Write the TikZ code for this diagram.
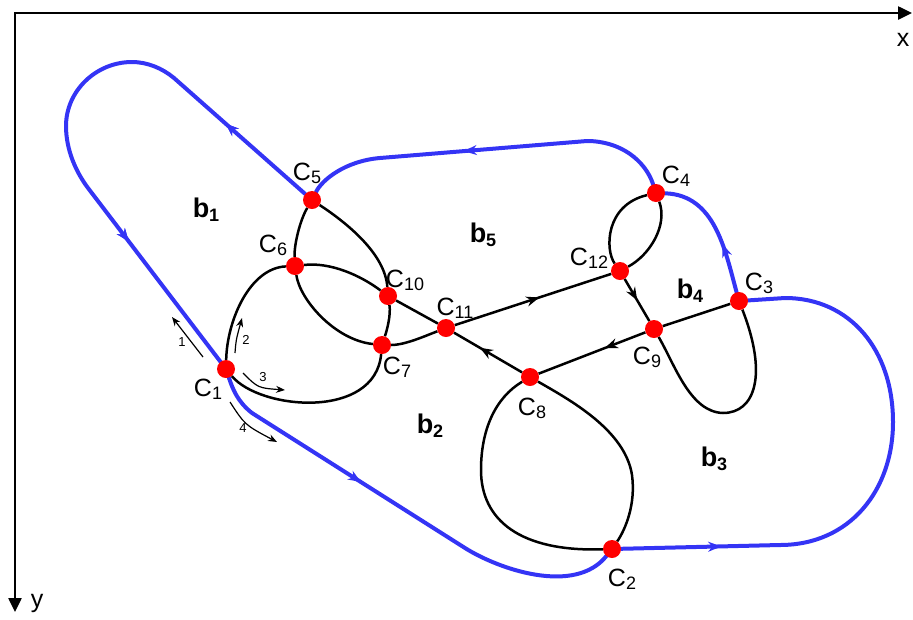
\documentclass[tikz,border=0pt]{standalone}
\usepackage{fontspec}
\setmainfont{Liberation Sans}
\usetikzlibrary{arrows.meta,decorations.markings}
\pgfdeclarelayer{background}
\pgfsetlayers{background,main}

\definecolor{loopblue}{RGB}{52,52,245}
\newcommand{\cn}[1]{C\raisebox{-3pt}{\fontsize{18}{18}\selectfont #1}}
\newcommand{\bn}[1]{\textbf{\fontsize{27}{30}\selectfont b\raisebox{-4pt}{\fontsize{18}{18}\selectfont #1}}}

\begin{document}
\begin{tikzpicture}[x=1pt, y=-1pt, font=\fontsize{25}{29}\selectfont,
    dot/.style={circle, fill=red, inner sep=0pt, minimum size=18pt},
    lab/.style={inner sep=0pt},
    num/.style={inner sep=0pt, font=\fontsize{13}{13}\selectfont},
    wire/.style={line width=2.5pt},
    bpath/.style={loopblue, line width=4pt, line cap=round},
    axis/.style={line width=2.5pt, line join=miter},
    hint/.style={line width=1.2pt, -{Stealth[length=9pt,width=7pt]}},
    flow/.style={decoration={markings,
        mark=at position #1 with {\arrow{Stealth[length=13pt,width=10pt]}}},
        postaction={decorate}}]
    \useasboundingbox (0,0) rectangle (913,619);

    % axes
    \draw[axis, {Triangle[length=14pt,width=13pt]}-{Triangle[length=14pt,width=13pt]}]
        (912,13) -- (15,13) -- (15,612);
    \node[lab] (xlab) at (903,40) {x};
    \node[lab] (ylab) at (37,603) {y};

    % points C_i
    \node[dot] (c1) at (226,369) {};
    \node[dot] (c2) at (612,549) {};
    \node[dot] (c3) at (739,301) {};
    \node[dot] (c4) at (656,193) {};
    \node[dot] (c5) at (312,200) {};
    \node[dot] (c6) at (295,266) {};
    \node[dot] (c7) at (382,345) {};
    \node[dot] (c8) at (530,377) {};
    \node[dot] (c9) at (654,329) {};
    \node[dot] (c10) at (388,296) {};
    \node[dot] (c11) at (446,328) {};
    \node[dot] (c12) at (620,271) {};

    \node[lab] (l1) at (208,389) {\cn{1}};
    \node[lab] (l2) at (622,579) {\cn{2}};
    \node[lab] (l3) at (759,283) {\cn{3}};
    \node[lab] (l4) at (676,176) {\cn{4}};
    \node[lab] (l5) at (307,173) {\cn{5}};
    \node[lab] (l6) at (273,245) {\cn{6}};
    \node[lab] (l7) at (397,367) {\cn{7}};
    \node[lab] (l8) at (532,408) {\cn{8}};
    \node[lab] (l9) at (647,357) {\cn{9}};
    \node[lab] (l10) at (405,280) {\cn{10}};
    \node[lab] (l11) at (455,308) {\cn{11}};
    \node[lab] (l12) at (589,258) {\cn{12}};

    % regions
    \node[lab] (b1) at (206,210) {\bn{1}};
    \node[lab] (b2) at (430,426) {\bn{2}};
    \node[lab] (b3) at (714,459) {\bn{3}};
    \node[lab] (b4) at (690,291) {\bn{4}};
    \node[lab] (b5) at (483,235) {\bn{5}};

    \begin{pgfonlayer}{background}
    % outer boundary
    \draw[bpath, flow=172pt] (c1) .. controls (233,390) and (238,402) .. (252,413)
        -- (465,548) .. controls (500,570) and (575,595) .. (c2);
    \draw[bpath, flow=100pt] (c2) -- (780,545) .. controls (850,545) and (893,490) .. (893,422)
        .. controls (893,350) and (850,298) .. (785,298) -- (c3);
    \draw[bpath, flow=50pt] (c3) .. controls (725,250) and (715,195) .. (c4);
    \draw[bpath, flow=208pt] (c4) .. controls (645,160) and (620,141) .. (587,141)
        -- (380,158) .. controls (345,161) and (322,180) .. (c5);
    \draw[bpath, flow=106pt, flow=457pt] (c5) -- (174,78) .. controls (162,68) and (147,62) .. (132,62)
        .. controls (96,62) and (66,91) .. (66,126) .. controls (66,150) and (76,172) .. (88,188) -- (c1);

    % inner curves
    \draw[wire] (c1) .. controls (227,320) and (250,268) .. (c6);
    \draw[wire] (c6) .. controls (300,300) and (335,340) .. (c7);
    \draw[wire] (c1) .. controls (260,410) and (375,420) .. (c7);
    \draw[wire] (c5) .. controls (300,220) and (294,245) .. (c6);
    \draw[wire] (c5) .. controls (350,225) and (385,255) .. (c10);
    \draw[wire] (c6) .. controls (330,262) and (360,275) .. (c10);
    \draw[wire] (c10) -- (c11);
    \draw[wire] (c10) .. controls (391,315) and (387,330) .. (c7);
    \draw[wire] (c7) .. controls (405,345) and (425,336) .. (c11);
    \draw[wire, flow=0.54] (c11) -- (c12);
    \draw[wire, flow=0.62] (c8) -- (c11);
    \draw[wire, flow=0.51] (c12) -- (c9);
    \draw[wire, flow=0.38] (c9) -- (c8);
    \draw[wire] (c9) -- (c3);
    \draw[wire] (c12) .. controls (605,250) and (605,205) .. (c4);
    \draw[wire] (c4) .. controls (668,225) and (650,255) .. (c12);
    \draw[wire] (c9) .. controls (675,365) and (690,412) .. (723,413)
        .. controls (755,413) and (768,375) .. (c3);
    \draw[wire] (c8) .. controls (495,398) and (481,430) .. (481,470)
        .. controls (481,520) and (520,552) .. (c2);
    \draw[wire] (c8) .. controls (570,400) and (625,430) .. (632,475)
        .. controls (636,505) and (625,530) .. (c2);
    \end{pgfonlayer}

    % directions at C_1
    \draw[hint] (203,357) -- (172,317);
    \draw[hint] (235,353) .. controls (236,340) .. (242,318);
    \draw[hint] (243,373) .. controls (258,388) .. (285,390);
    \draw[hint] (230,402) .. controls (245,425) .. (277,442);
    \node[num] (n1) at (182,342) {1};
    \node[num] (n2) at (246,340) {2};
    \node[num] (n3) at (263,377) {3};
    \node[num] (n4) at (243,428) {4};
\end{tikzpicture}
\end{document}
